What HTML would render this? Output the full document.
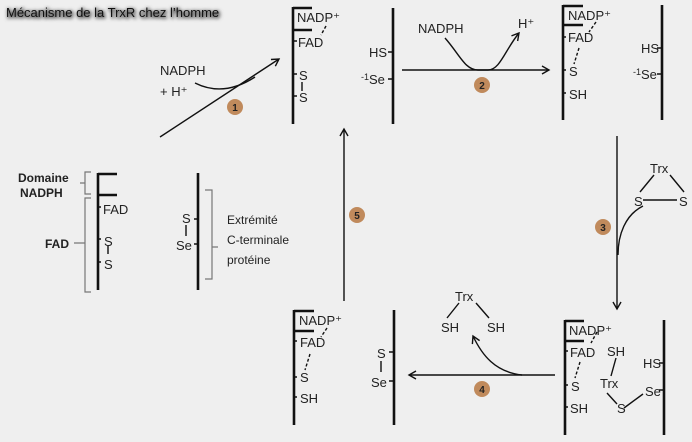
<!DOCTYPE html>
<html><head><meta charset="utf-8"><style>
body{margin:0;background:#efefef}
svg{display:block}
text{font-family:"Liberation Sans",sans-serif;font-size:13px;fill:#222}
.b{stroke:#111;stroke-width:2.6;fill:none}
.t{stroke:#111;stroke-width:1.4;fill:none}
.d{stroke:#111;stroke-width:1.4;fill:none;stroke-dasharray:3 2}
.br{stroke:#777;stroke-width:1.2;fill:none}
.bd{fill:#c08a5c}
.bn{font-size:10px;font-weight:bold;fill:#222;text-anchor:middle}
</style></head><body>
<svg width="692" height="442" viewBox="0 0 692 442">
<defs><marker id="a" markerWidth="10" markerHeight="10" refX="8" refY="5" orient="auto" markerUnits="userSpaceOnUse"><path d="M1,1 L8,5 L1,9" fill="none" stroke="#111" stroke-width="1.4"/></marker>
<filter id="sh"><feGaussianBlur stdDeviation="1.8"/></filter></defs>
<text x="7" y="18" style="font-size:13px;fill:#666;stroke:#666;stroke-width:1.5" filter="url(#sh)">Mécanisme de la TrxR chez l’homme</text>
<text x="6" y="17" style="font-size:13px;fill:#111">Mécanisme de la TrxR chez l’homme</text>

<!-- step 1 -->
<line class="t" x1="160" y1="137" x2="279" y2="59" marker-end="url(#a)"/>
<text x="160" y="75">NADPH</text><text x="160" y="96">+ H⁺</text>
<path class="t" d="M195,83 C215,93 235,90 255,77"/>
<circle class="bd" cx="235" cy="107" r="8"/><text class="bn" x="235" y="111">1</text>

<!-- struct A -->
<line class="b" x1="293" y1="7" x2="293" y2="124"/>
<path class="b" d="M293,8H312M293,30H312"/>
<text x="297" y="22">NADP⁺</text>
<path class="t" d="M293,41H297M293,74H297M293,96H297M302,82V91"/>
<text x="298" y="47">FAD</text><text x="299" y="80">S</text><text x="299" y="102">S</text>
<path class="d" d="M326,26 L321,35"/>

<!-- struct B -->
<line class="b" x1="393" y1="8" x2="393" y2="124"/>
<path class="t" d="M388,52H393M388,79H393"/>
<text x="369" y="57">HS</text><text x="361" y="84"><tspan style="font-size:9px" dy="-4">-1</tspan><tspan dy="4">Se</tspan></text>

<!-- step 2 -->
<line class="t" x1="402" y1="70" x2="549" y2="70" marker-end="url(#a)"/>
<text x="418" y="33">NADPH</text><text x="518" y="28">H⁺</text>
<path class="t" d="M445,38 C460,55 465,70 478,70 L488,70 C500,70 505,50 519,33" marker-end="url(#a)"/>
<circle class="bd" cx="482" cy="85" r="8"/><text class="bn" x="482" y="89">2</text>

<!-- struct C -->
<line class="b" x1="563" y1="5" x2="563" y2="120"/>
<path class="b" d="M563,6H583M563,25H583"/>
<text x="568" y="20">NADP⁺</text>
<path class="t" d="M563,37H566M563,70H566M563,93H566"/>
<text x="568" y="42">FAD</text><text x="569" y="76">S</text><text x="569" y="99">SH</text>
<path class="d" d="M596,22 L589,32M579,48 L574,64"/>
<line class="b" x1="662" y1="5" x2="662" y2="120"/>
<path class="t" d="M657,48H662M657,74H662"/>
<text x="641" y="53">HS</text><text x="633" y="79"><tspan style="font-size:9px" dy="-4">-1</tspan><tspan dy="4">Se</tspan></text>

<!-- step 5 -->
<line class="t" x1="344" y1="301" x2="344" y2="129" marker-end="url(#a)"/>
<circle class="bd" cx="357" cy="215" r="8"/><text class="bn" x="357" y="219">5</text>

<!-- step 3 -->
<line class="t" x1="617" y1="136" x2="617" y2="309" marker-end="url(#a)"/>
<text x="650" y="173">Trx</text><text x="634" y="206">S</text><text x="679" y="206">S</text>
<path class="t" d="M654,175 L640,192M670,175 L684,192M643,200H677"/>
<path class="t" d="M643,206 C625,215 618,235 618,255"/>
<circle class="bd" cx="603" cy="227" r="8"/><text class="bn" x="603" y="231">3</text>

<!-- legend -->
<line class="b" x1="98" y1="173" x2="98" y2="290"/>
<path class="b" d="M98,174H117M98,195H117"/>
<path class="t" d="M98,207H101M98,239H101M98,262H101M108,246V254"/>
<text x="103" y="214">FAD</text><text x="104" y="246">S</text><text x="104" y="269">S</text>
<path class="br" d="M91,172 H85 V183 H80 H85 V194 H91M91,198 H85 V292 H91M85,243 H74"/>
<text x="18" y="182" style="font-size:12px;font-weight:bold">Domaine</text>
<text x="20" y="197" style="font-size:12px;font-weight:bold">NADPH</text>
<text x="45" y="248" style="font-size:12px;font-weight:bold">FAD</text>
<line class="b" x1="198" y1="173" x2="198" y2="290"/>
<path class="t" d="M194,219H198M194,244H198M186,225V236"/>
<text x="182" y="223">S</text><text x="176" y="250">Se</text>
<path class="br" d="M205,190H212V247H218H212V279H205"/>
<text x="227" y="224" style="font-size:12px">Extrémité</text>
<text x="227" y="244" style="font-size:12px">C-terminale</text>
<text x="227" y="264" style="font-size:12px">protéine</text>

<!-- struct D -->
<line class="b" x1="294" y1="310" x2="294" y2="425"/>
<path class="b" d="M294,311H314M294,331H314"/>
<text x="299" y="325">NADP⁺</text>
<path class="t" d="M294,341H297M294,377H297M294,397H297"/>
<text x="300" y="347">FAD</text><text x="300" y="382">S</text><text x="300" y="403">SH</text>
<path class="d" d="M327,328 L321,337M310,354 L305,370"/>
<line class="b" x1="394" y1="310" x2="394" y2="425"/>
<path class="t" d="M389,352H394M389,381H394M381,361V372"/>
<text x="377" y="358">S</text><text x="371" y="387">Se</text>

<!-- step 4 -->
<line class="t" x1="555" y1="375" x2="409" y2="375" marker-end="url(#a)"/>
<path class="t" d="M522,375 C495,372 482,355 473,336" marker-end="url(#a)"/>
<text x="455" y="301">Trx</text><text x="441" y="332">SH</text><text x="487" y="332">SH</text>
<path class="t" d="M459,303 L447,318M476,303 L489,318"/>
<circle class="bd" cx="482" cy="389" r="8"/><text class="bn" x="482" y="393">4</text>

<!-- struct E -->
<line class="b" x1="565" y1="320" x2="565" y2="435"/>
<path class="b" d="M565,321H584M565,341H584"/>
<text x="569" y="335">NADP⁺</text>
<path class="t" d="M565,351H568M565,385H568M565,407H568"/>
<text x="570" y="357">FAD</text><text x="571" y="391">S</text><text x="570" y="413">SH</text>
<path class="d" d="M597,332 L591,343M580,362 L575,378"/>
<text x="607" y="356">SH</text><text x="600" y="388">Trx</text><text x="617" y="413">S</text><text x="645" y="396">Se</text><text x="643" y="368">HS</text>
<path class="t" d="M616,358 L611,376M607,393 L617,404M624,408 L643,394M659,363H664M659,390H664"/>
<line class="b" x1="664" y1="320" x2="664" y2="435"/>
</svg>
</body></html>
